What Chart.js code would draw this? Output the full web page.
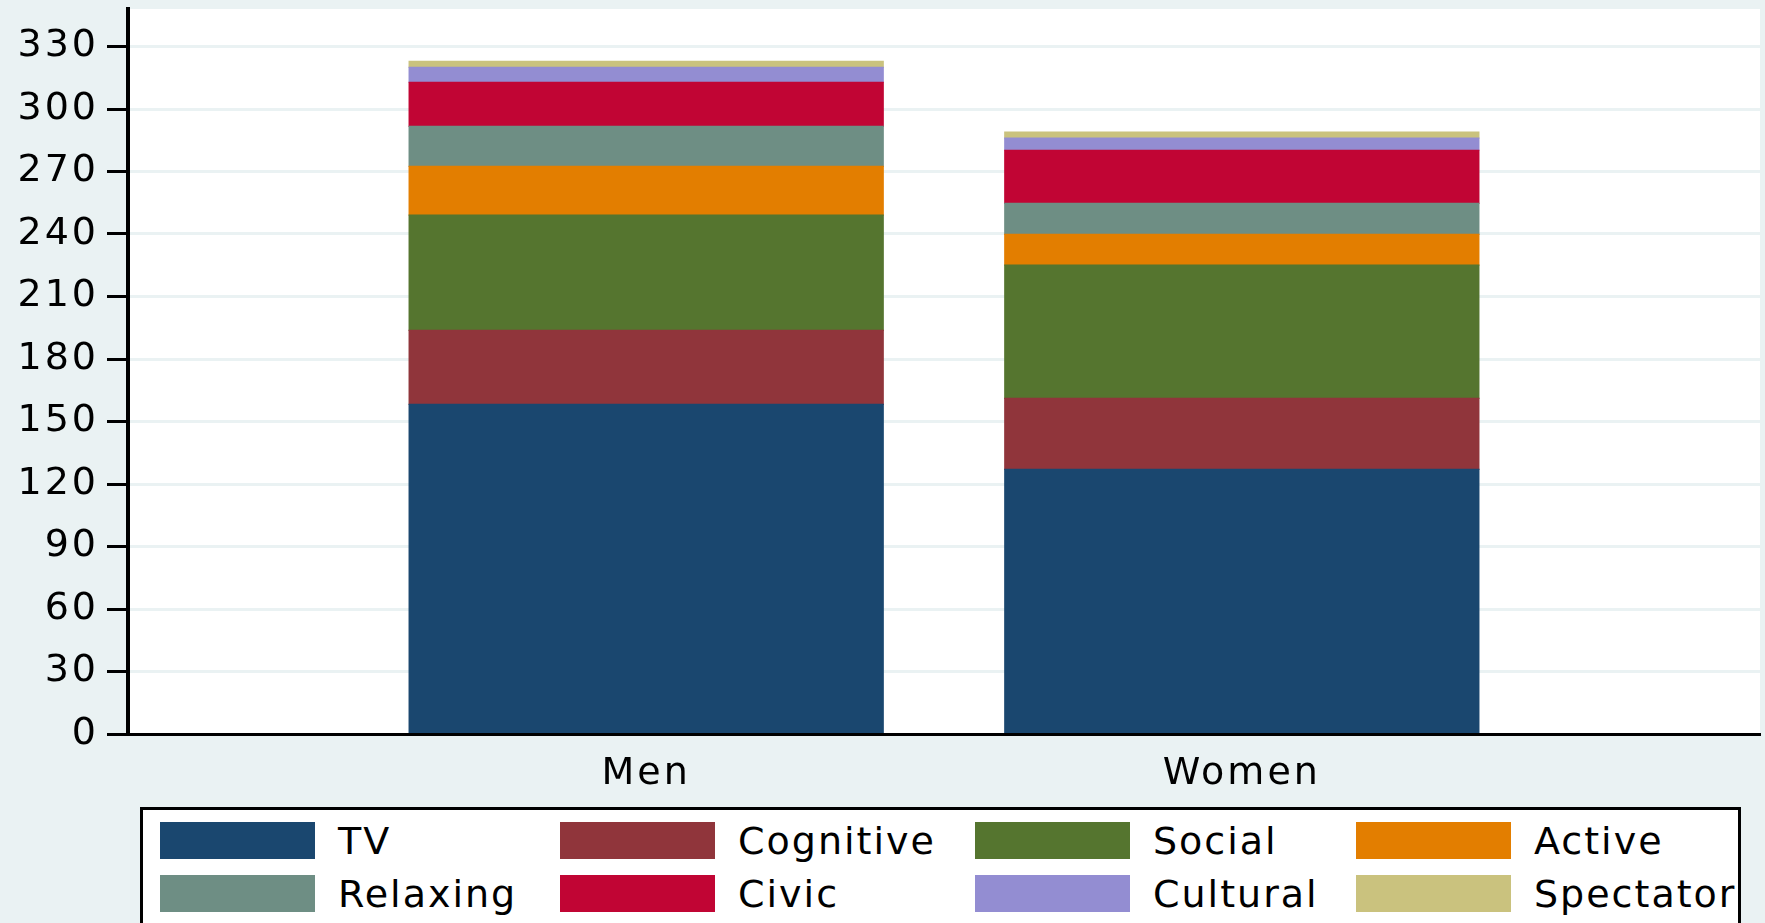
<!DOCTYPE html>
<html lang="en">
<head>
<meta charset="UTF-8">
<title>Time use by activity, men and women</title>
<script src="https://cdn.jsdelivr.net/npm/chart.js"></script>
<style>
  html, body { margin: 0; padding: 0; background: #eaf2f3; overflow: hidden; }
  .wrap { position: relative; width: 1765px; height: 923px; }
  #legend {
    position: absolute; left: 140px; top: 807px; width: 1601px; height: 160px;
    box-sizing: border-box; border: 3px solid #000; background: #fff; overflow: hidden;
    padding: 12px 0 0 17px;
    display: grid; grid-template-columns: 400px 415px 381px auto; row-gap: 16px; align-content: start;
  }
  .item { display: flex; align-items: center; height: 37px; font-family: 'DejaVu Sans'; font-size: 38px;
          letter-spacing: 2px; color: #000; white-space: nowrap; }
  .swatch { width: 155px; height: 37px; margin-right: 23px; flex: none; }
</style>
</head>
<body>
<div class="wrap">
  <canvas id="chart" width="1765" height="923"></canvas>
  <div id="legend"></div>
</div>

<script>
// values
const categories = ['Men', 'Women'];
const activities = ['TV', 'Cognitive', 'Social', 'Active', 'Relaxing', 'Civic', 'Cultural', 'Spectator'];
const tvValues        = [158.2, 127.0];
const cognitiveValues = [35.5, 34.1];
const socialValues    = [55.4, 64.0];
const activeValues    = [23.4, 14.7];
const relaxingValues  = [19.2, 14.9];
const civicValues     = [21.1, 25.5];
const culturalValues  = [7.2, 5.8];
const spectatorValues = [2.9, 2.9];
const yTickValues = [0, 30, 60, 90, 120, 150, 180, 210, 240, 270, 300, 330];

const colors = ['#1a476f', '#90353b', '#55752f', '#e37e00', '#6e8e84', '#c10534', '#938dd2', '#cac27e'];
const series = [tvValues, cognitiveValues, socialValues, activeValues,
                relaxingValues, civicValues, culturalValues, spectatorValues];

const font = { family: 'DejaVu Sans', size: 38 };

// light background, white plot region, wider text like the original
const stataLook = {
  id: 'stataLook',
  beforeUpdate(chart) { chart.ctx.letterSpacing = '3px'; },
  beforeDraw(chart) {
    const { ctx, chartArea: a } = chart;
    ctx.save();
    ctx.fillStyle = '#eaf2f3';
    ctx.fillRect(0, 0, chart.width, chart.height);
    ctx.fillStyle = '#ffffff';
    ctx.fillRect(a.left, a.top, a.right - a.left, a.bottom - a.top);
    ctx.restore();
    ctx.letterSpacing = '3px';
  }
};

const chart = new Chart(document.getElementById('chart'), {
  type: 'bar',
  data: {
    datasets: activities.map((name, i) => ({
      label: name,
      data: categories.map((c, j) => ({ x: j + 1, y: series[i][j] })),
      backgroundColor: colors[i],
      borderWidth: 0,
      inflateAmount: 0.6,
      categoryPercentage: 1,
      barPercentage: 0.796
    }))
  },
  options: {
    responsive: false,
    animation: false,
    devicePixelRatio: 1,
    layout: { padding: { top: 9, right: 5, left: 0, bottom: 119 } },
    plugins: { legend: { display: false }, tooltip: { enabled: false } },
    scales: {
      x: {
        type: 'linear',
        stacked: true,
        min: 0.13,
        max: 2.87,
        offset: false,
        afterBuildTicks: s => { s.ticks = categories.map((c, i) => ({ value: i + 1 })); },
        afterFit: s => { s.height = 70; s.paddingLeft = 0; s.paddingRight = 0; },
        ticks: {
          color: '#000', font: font, padding: 17, autoSkip: false, maxRotation: 0,
          callback: v => categories[v - 1] ?? ''
        },
        grid: { display: true, offset: false, drawOnChartArea: false, drawTicks: false },
        border: { color: '#000', width: 3 }
      },
      y: {
        stacked: true,
        min: 0,
        max: 348,
        afterBuildTicks: s => { s.ticks = yTickValues.map(v => ({ value: v })); },
        afterFit: s => { s.width = 128; s.paddingTop = 0; s.paddingBottom = 0; },
        ticks: { color: '#000', font: font, padding: 8 },
        grid: { color: '#eaf2f3', lineWidth: 3, tickColor: '#000', tickWidth: 3, tickLength: 21 },
        border: { color: '#000', width: 4 }
      }
    }
  },
  plugins: [stataLook]
});

// legend box, four columns by two rows
const legend = document.getElementById('legend');
activities.forEach((name, i) => {
  const item = document.createElement('div');
  item.className = 'item';
  const sw = document.createElement('span');
  sw.className = 'swatch';
  sw.style.background = colors[i];
  item.appendChild(sw);
  item.appendChild(document.createTextNode(name));
  legend.appendChild(item);
});
</script>
</body>
</html>
